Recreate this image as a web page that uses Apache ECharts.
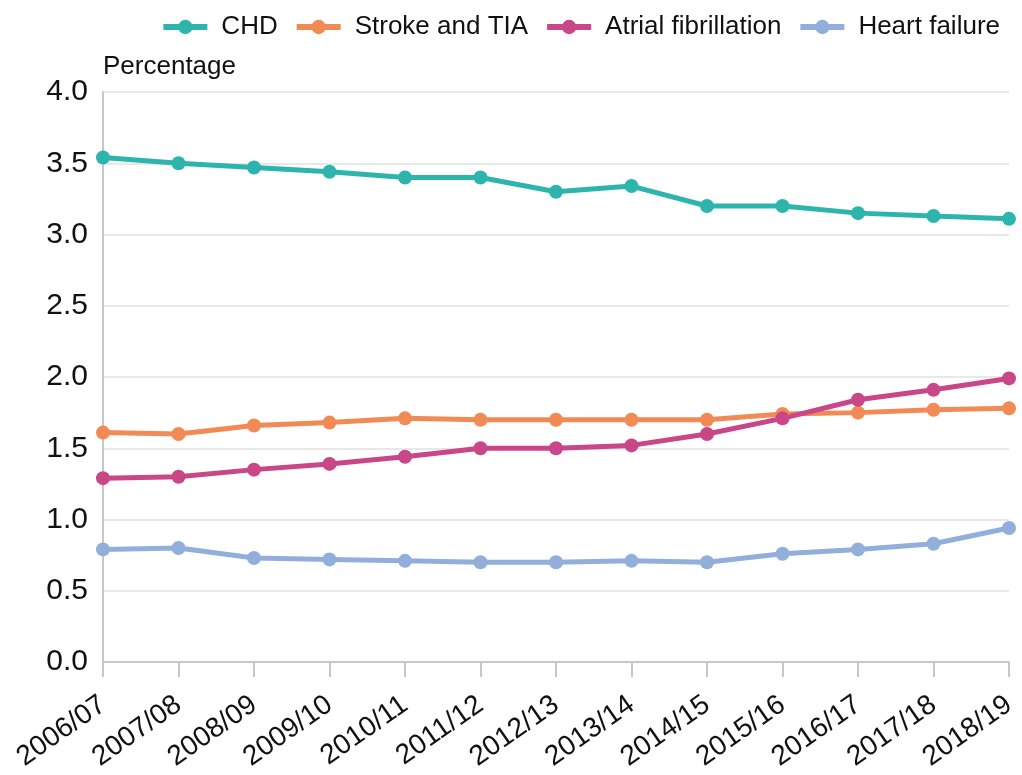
<!DOCTYPE html>
<html>
<head>
<meta charset="utf-8">
<script src="https://cdn.jsdelivr.net/npm/echarts@6/dist/echarts.min.js"></script>
<style>html,body{margin:0;padding:0;background:#fff}#c{width:1022px;height:775px}</style>
</head>
<body>
<div id="c"></div>
<script>
var categories = ["2006/07","2007/08","2008/09","2009/10","2010/11","2011/12","2012/13","2013/14","2014/15","2015/16","2016/17","2017/18","2018/19"];
var chd = [3.54,3.50,3.47,3.44,3.40,3.40,3.30,3.34,3.20,3.20,3.15,3.13,3.11];
var stroke = [1.61,1.60,1.66,1.68,1.71,1.70,1.70,1.70,1.70,1.74,1.75,1.77,1.78];
var af = [1.29,1.30,1.35,1.39,1.44,1.50,1.50,1.52,1.60,1.71,1.84,1.91,1.99];
var hf = [0.79,0.80,0.73,0.72,0.71,0.70,0.70,0.71,0.70,0.76,0.79,0.83,0.94];
var seriesNames = ["CHD","Stroke and TIA","Atrial fibrillation","Heart failure"];
var colors = ["#2db5ad","#f28a55","#c94688","#92aedb"];

var chart = echarts.init(document.getElementById('c'));
var font = '"Liberation Sans", Arial, Helvetica, sans-serif';
function mk(name, data, color) {
  return {
    name: name, type: 'line', data: data,
    symbol: 'circle', symbolSize: 14,
    lineStyle: {width: 5, color: color},
    itemStyle: {color: color},
    emphasis: {disabled: true}
  };
}
chart.setOption({
  animation: false,
  textStyle: {fontFamily: font},
  legend: {
    top: 9, right: 17,
    itemWidth: 44, itemHeight: 18, itemGap: 16,
    lineStyle: {width: 6},
    textStyle: {fontSize: 26, color: '#111', fontFamily: font, padding: [0,0,0,9]},
    data: seriesNames
  },
  grid: {left: 103, right: 13, top: 92, bottom: 113, containLabel: false},
  xAxis: {
    type: 'category', data: categories, boundaryGap: false,
    axisLine: {lineStyle: {color: '#c8c8c8', width: 2}},
    axisTick: {show: true, length: 15, lineStyle: {color: '#c8c8c8', width: 2}, alignWithLabel: true},
    axisLabel: {rotate: 35, fontSize: 28, color: '#111', margin: 40, interval: 0, fontFamily: font},
    splitLine: {show: false}
  },
  yAxis: {
    type: 'value', min: 0, max: 4, interval: 0.5,
    name: 'Percentage', nameLocation: 'end', nameGap: 12,
    nameTextStyle: {fontSize: 26, color: '#111', align: 'left', padding: [0,0,0,0], fontFamily: font},
    axisLine: {show: true, lineStyle: {color: '#c8c8c8', width: 2}},
    axisTick: {show: false},
    axisLabel: {fontSize: 30, color: '#111', margin: 15, formatter: function(v){return v.toFixed(1);}, fontFamily: font},
    splitLine: {lineStyle: {color: '#e8e8e8', width: 2}}
  },
  series: [
    mk(seriesNames[0], chd, colors[0]),
    mk(seriesNames[1], stroke, colors[1]),
    mk(seriesNames[2], af, colors[2]),
    mk(seriesNames[3], hf, colors[3])
  ]
});
</script>
</body>
</html>
